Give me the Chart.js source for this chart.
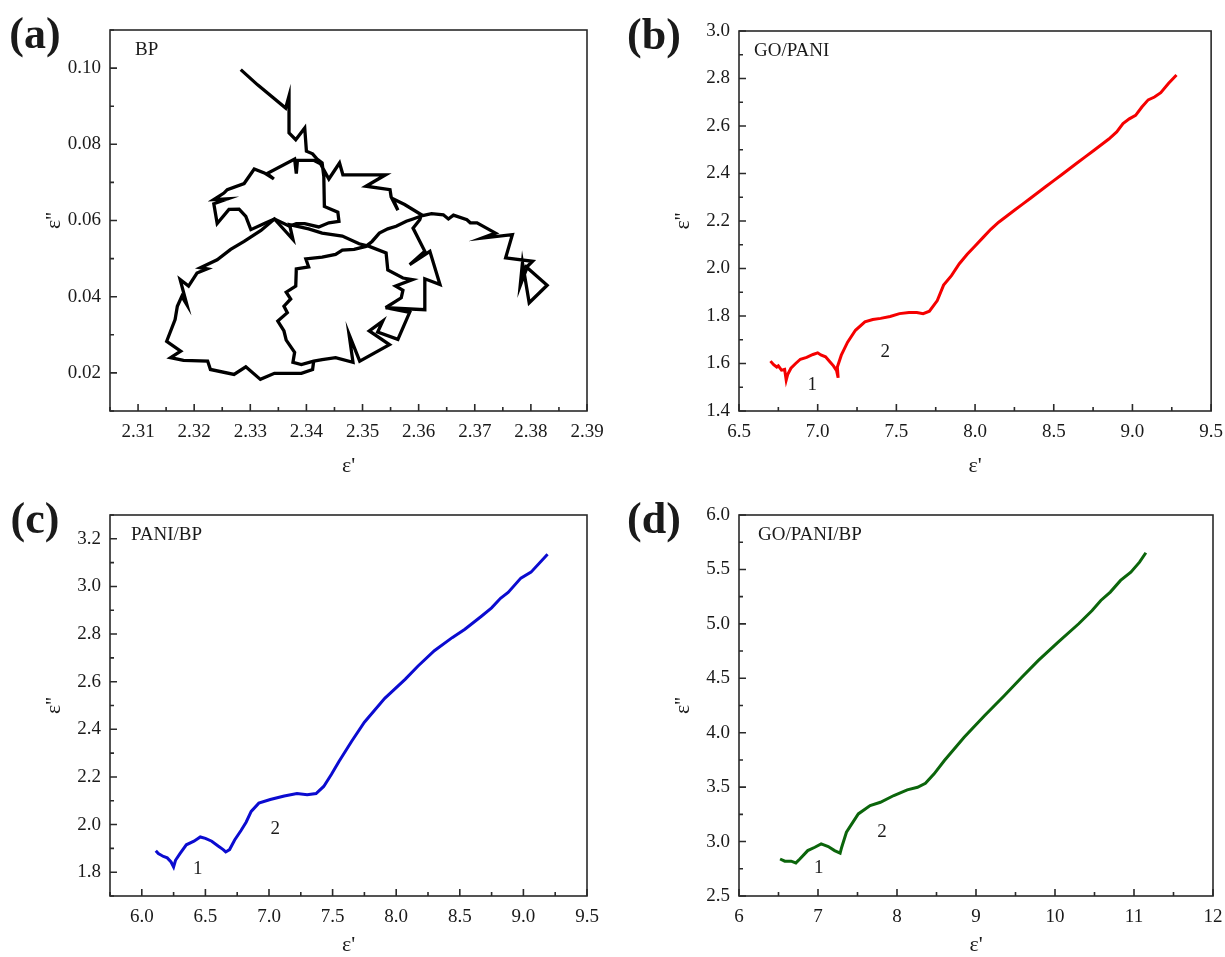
<!DOCTYPE html>
<html>
<head>
<meta charset="utf-8">
<script src="https://cdn.jsdelivr.net/npm/chart.js@4.4.1/dist/chart.umd.min.js"></script>
<style>
  html, body { margin: 0; padding: 0; background: #fff; }
  #wrap { position: relative; width: 1225px; height: 957px; }
  #wrap canvas { position: absolute; left: 0; top: 0; }
</style>
</head>
<body>
<div id="wrap">
  <canvas id="pa" width="1225" height="957"></canvas>
  <canvas id="pb" width="1225" height="957"></canvas>
  <canvas id="pc" width="1225" height="957"></canvas>
  <canvas id="pd" width="1225" height="957"></canvas>
</div>
<script>
// (a) BP: main trace and the lower-left loop branch (eps', eps'')
const bpMainRe = [2.3283,2.3313,2.3363,2.3369,2.3369,2.3381,2.3397,2.3400,2.3411,2.3419,2.3428,
  2.3431,2.3432,2.3456,2.3458,2.3440,2.3422,2.3397,2.3382,2.3370,2.3343,2.3325,2.3301,2.3292,2.3280,
  2.3262,2.3241,2.3235,2.3260,2.3235,2.3253,2.3259,2.3289,2.3307,2.3325,2.3342,2.3330,2.3379,2.3382,
  2.3384,2.3413,2.3425,2.3440,2.3459,2.3465,2.3541,2.3506,2.3549,2.3551,2.3563,2.3554,2.3575,2.3605,
  2.3602,2.3590,2.3611,2.3584,2.3620,2.3638,2.3611,2.3611,2.3541,
  2.3584,2.3563,2.3527,2.3536,2.3512,2.3548,2.3495,2.3476,2.3483,2.3452,2.3428,
  2.3413,2.3391,2.3376,2.3379,2.3364,2.3360,2.3349,2.3366,2.3360,2.3372,2.3364,2.3381,2.3382,2.3404,2.3399,
  2.3428,2.3452,2.3464,2.3485,2.3506,2.3517,2.3530,2.3545,2.3560,2.3578,2.3590,2.3607,
  2.3623,2.3644,2.3653,2.3662,2.3686,2.3692,2.3704,2.3737,2.3713,2.3767,2.3755,2.3803,2.3794,2.3781,
  2.3785,2.3797,2.3829,2.3789];
const bpMainIm = [0.0996,0.0956,0.0895,0.0927,0.0830,0.0812,0.0843,0.0782,0.0775,0.0761,0.0751,
  0.0716,0.0637,0.0622,0.0598,0.0594,0.0583,0.0592,0.0592,0.0585,0.0604,0.0592,0.0576,0.0611,0.0630,
  0.0629,0.0592,0.0644,0.0657,0.0655,0.0672,0.0681,0.0697,0.0735,0.0725,0.0709,0.0723,0.0761,0.0723,
  0.0758,0.0758,0.0749,0.0709,0.0751,0.0720,0.0720,0.0690,0.0681,0.0662,0.0627,0.0657,0.0642,0.0615,
  0.0602,0.0580,0.0519,0.0484,0.0519,0.0432,0.0447,0.0366,0.0371,
  0.0359,0.0288,0.0307,0.0336,0.0310,0.0274,0.0231,0.0301,0.0228,0.0240,0.0235,
  0.0231,0.0222,0.0228,0.0254,0.0286,0.0310,0.0336,0.0358,0.0375,0.0394,0.0412,0.0428,0.0473,0.0478,0.0499,
  0.0504,0.0511,0.0522,0.0524,0.0532,0.0545,0.0567,0.0578,0.0585,0.0598,0.0604,0.0613,
  0.0618,0.0615,0.0604,0.0614,0.0602,0.0594,0.0594,0.0567,0.0554,0.0563,0.0502,0.0493,0.0480,0.0429,
  0.0489,0.0384,0.0430,0.0482];
const bpLoopRe = [2.3413,2.3411,2.3391,2.3343,2.3318,2.3292,2.3271,2.3229,2.3224,2.3181,2.3158,2.3176,
  2.3151,2.3166,2.3170,2.3178,2.3187,2.3175,2.3190,2.3205,2.3223,2.3211,2.3241,2.3265,2.3289,2.3319,
  2.3343,2.3376,2.3370,2.3404,2.3428,2.3464,2.3494,2.3512,2.3542,2.3545,2.3572,2.3589,2.3559,2.3572,
  2.3569,2.3541];
const bpLoopIm = [0.0231,0.0209,0.0199,0.0199,0.0183,0.0216,0.0196,0.0209,0.0231,0.0233,0.0240,0.0257,
  0.0283,0.0340,0.0375,0.0401,0.0379,0.0445,0.0428,0.0462,0.0473,0.0476,0.0497,0.0524,0.0545,0.0574,
  0.0604,0.0550,0.0589,0.0578,0.0567,0.0559,0.0539,0.0532,0.0515,0.0470,0.0449,0.0445,0.0428,0.0417,
  0.0397,0.0371];

// (b) GO/PANI
const goPaniRe = [6.70,6.72,6.74,6.75,6.77,6.79,6.80,6.81,6.83,6.86,6.89,6.93,6.97,7.00,7.02,7.05,7.08,
  7.10,7.12,7.13,7.125,7.15,7.19,7.24,7.30,7.35,7.40,7.46,7.52,7.58,7.63,7.67,7.71,7.76,7.80,7.85,7.90,
  7.95,8.00,8.05,8.10,8.15,8.20,8.25,8.30,8.35,8.40,8.45,8.50,8.55,8.60,8.65,8.70,8.75,8.80,8.85,8.90,
  8.94,8.98,9.02,9.06,9.10,9.14,9.18,9.23,9.28];
const goPaniIm = [1.610,1.595,1.585,1.590,1.572,1.575,1.530,1.555,1.580,1.600,1.618,1.626,1.638,1.645,
  1.636,1.628,1.605,1.590,1.570,1.540,1.585,1.635,1.690,1.740,1.775,1.785,1.790,1.798,1.810,1.815,1.815,
  1.810,1.820,1.865,1.930,1.970,2.020,2.060,2.095,2.130,2.165,2.195,2.220,2.245,2.270,2.295,2.320,2.345,
  2.370,2.395,2.420,2.445,2.470,2.495,2.520,2.545,2.575,2.610,2.630,2.645,2.680,2.710,2.722,2.740,2.780,2.815];

// (c) PANI/BP
const paniBpRe = [6.11,6.13,6.15,6.17,6.20,6.23,6.25,6.265,6.30,6.35,6.41,6.46,6.50,6.55,6.60,6.64,6.66,
  6.69,6.73,6.78,6.82,6.86,6.92,7.01,7.12,7.22,7.30,7.37,7.43,7.49,7.55,7.65,7.75,7.91,8.07,8.17,8.30,
  8.44,8.54,8.67,8.75,8.82,8.88,8.98,9.06,9.19];
const paniBpIm = [1.890,1.878,1.872,1.866,1.860,1.843,1.822,1.850,1.878,1.915,1.930,1.948,1.942,1.930,
  1.910,1.895,1.885,1.895,1.935,1.975,2.010,2.055,2.090,2.105,2.120,2.130,2.125,2.130,2.160,2.210,2.265,
  2.350,2.430,2.530,2.610,2.665,2.730,2.785,2.820,2.875,2.910,2.950,2.975,3.035,3.060,3.135];

// (d) GO/PANI/BP
const goPaniBpRe = [6.52,6.58,6.66,6.72,6.77,6.87,6.96,7.04,7.13,7.21,7.28,7.30,7.36,7.51,7.66,7.79,7.96,
  8.13,8.26,8.36,8.47,8.60,8.85,9.11,9.36,9.58,9.79,10.04,10.30,10.47,10.58,10.70,10.83,10.96,11.07,11.15];
const goPaniBpIm = [2.840,2.820,2.820,2.804,2.840,2.917,2.948,2.979,2.954,2.917,2.893,2.948,3.086,3.254,
  3.331,3.361,3.423,3.475,3.499,3.536,3.622,3.745,3.959,4.158,4.342,4.510,4.664,4.832,5.001,5.123,5.215,
  5.292,5.399,5.475,5.567,5.653];

// tick values
const ticksAX = [2.31,2.32,2.33,2.34,2.35,2.36,2.37,2.38,2.39];
const ticksAY = [0.02,0.04,0.06,0.08,0.10];
const ticksBX = [6.5,7.0,7.5,8.0,8.5,9.0,9.5];
const ticksBY = [1.4,1.6,1.8,2.0,2.2,2.4,2.6,2.8,3.0];
const ticksCX = [6.0,6.5,7.0,7.5,8.0,8.5,9.0,9.5];
const ticksCY = [1.8,2.0,2.2,2.4,2.6,2.8,3.0,3.2];
const ticksDX = [6,7,8,9,10,11,12];
const ticksDY = [2.5,3.0,3.5,4.0,4.5,5.0,5.5,6.0];

const SERIF = "'Liberation Serif', 'Times New Roman', serif";
const INK = '#1a1a1a';

const toPoints = (xs, ys) => xs.map((v, i) => ({ x: v, y: ys[i] }));

// box frame, inward major/minor ticks and the text around each panel
const frameTicks = {
  id: 'frameTicks',
  afterDraw(chart, args, o) {
    const { ctx, chartArea: a, scales: { x, y } } = chart;
    ctx.save();
    ctx.strokeStyle = '#2a2a2a';
    ctx.lineWidth = 1.6;
    ctx.strokeRect(a.left, a.top, a.right - a.left, a.bottom - a.top);
    ctx.beginPath();
    const near = (v, list) => list.some(t => Math.abs(t - v) < 1e-9);
    for (let k = Math.ceil(x.min / o.minorX - 1e-9); k * o.minorX <= x.max + 1e-9; k++) {
      const v = k * o.minorX;
      const px = x.getPixelForValue(v);
      const len = near(v, o.majorX) ? 7 : 4;
      ctx.moveTo(px, a.bottom);
      ctx.lineTo(px, a.bottom - len);
    }
    for (let k = Math.ceil(y.min / o.minorY - 1e-9); k * o.minorY <= y.max + 1e-9; k++) {
      const v = k * o.minorY;
      const py = y.getPixelForValue(v);
      const len = near(v, o.majorY) ? 7 : 4;
      ctx.moveTo(a.left, py);
      ctx.lineTo(a.left + len, py);
    }
    ctx.stroke();

    ctx.fillStyle = INK;
    ctx.textAlign = 'center';
    ctx.textBaseline = 'middle';
    // panel letter
    ctx.font = 'bold 44px ' + SERIF;
    ctx.fillText(o.letter, o.letterX, a.top + 7);
    // sample name
    ctx.font = '19px ' + SERIF;
    ctx.textAlign = 'left';
    ctx.fillText(o.name, a.left + o.nameOff, a.top + 20);
    // numbered regions
    ctx.textAlign = 'center';
    (o.notes || []).forEach(n => {
      ctx.fillText(n.t, x.getPixelForValue(n.x), y.getPixelForValue(n.y));
    });
    // axis titles
    ctx.font = '22px ' + SERIF;
    ctx.fillText("\u03b5'", (a.left + a.right) / 2, a.bottom + o.titleGap);
    ctx.save();
    ctx.translate(a.left - 56, (a.top + a.bottom) / 2);
    ctx.rotate(-Math.PI / 2);
    ctx.fillText("\u03b5''", 0, 0);
    ctx.restore();
    ctx.restore();
  }
};

function makePanel(id, p) {
  const Y_W = 70, X_H = 40;
  const [L, T, R, B] = p.box;
  return new Chart(document.getElementById(id), {
    type: 'scatter',
    data: {
      datasets: p.series.map(s => ({
        data: toPoints(s[0], s[1]),
        showLine: true,
        borderColor: p.color,
        borderWidth: p.lw,
        borderJoinStyle: 'miter',
        pointRadius: 0,
        tension: 0,
        fill: false
      }))
    },
    options: {
      responsive: false,
      animation: false,
      devicePixelRatio: 1,
      layout: {
        autoPadding: false,
        padding: { left: L - Y_W, top: T, right: 1225 - R, bottom: 957 - B - X_H }
      },
      plugins: {
        legend: { display: false },
        tooltip: { enabled: false },
        frameTicks: {
          majorX: p.tx, majorY: p.ty, minorX: p.minor[0], minorY: p.minor[1],
          letter: p.letter, letterX: p.letterX, name: p.name, nameOff: p.nameOff,
          notes: p.notes, titleGap: p.titleGap
        }
      },
      scales: {
        x: {
          type: 'linear', min: p.xr[0], max: p.xr[1],
          grid: { display: false }, border: { display: false },
          afterBuildTicks: s => { s.ticks = p.tx.map(v => ({ value: v })); },
          afterFit: s => { s.height = X_H; },
          ticks: {
            autoSkip: false, maxRotation: 0, padding: 2, color: INK,
            font: { family: SERIF, size: 19 },
            callback: v => v.toFixed(p.dx)
          }
        },
        y: {
          type: 'linear', min: p.yr[0], max: p.yr[1],
          grid: { display: false }, border: { display: false },
          afterBuildTicks: s => { s.ticks = p.ty.map(v => ({ value: v })); },
          afterFit: s => { s.width = Y_W; },
          ticks: {
            autoSkip: false, padding: 1, color: INK,
            font: { family: SERIF, size: 19 },
            callback: v => v.toFixed(p.dy)
          }
        }
      }
    },
    plugins: [frameTicks]
  });
}

makePanel('pa', {
  box: [110, 30, 587, 411], xr: [2.305, 2.39], yr: [0.01, 0.11],
  tx: ticksAX, ty: ticksAY, minor: [0.005, 0.01], dx: 2, dy: 2,
  series: [[bpMainRe, bpMainIm], [bpLoopRe, bpLoopIm]], color: '#000000', lw: 3.3,
  letter: '(a)', letterX: 35, name: 'BP', nameOff: 25, notes: [], titleGap: 55
});
makePanel('pb', {
  box: [739, 31, 1213, 411], xr: [6.5, 9.5], yr: [1.4, 3.0],
  tx: ticksBX, ty: ticksBY, minor: [0.25, 0.1], dx: 1, dy: 1,
  series: [[goPaniRe, goPaniIm]], color: '#f50000', lw: 3,
  letter: '(b)', letterX: 654, name: 'GO/PANI', nameOff: 15, titleGap: 55,
  notes: [{ t: '1', x: 6.965, y: 1.51 }, { t: '2', x: 7.43, y: 1.65 }]
});
makePanel('pc', {
  box: [110, 515, 587, 896], xr: [5.75, 9.5], yr: [1.7, 3.3],
  tx: ticksCX, ty: ticksCY, minor: [0.25, 0.1], dx: 1, dy: 1,
  series: [[paniBpRe, paniBpIm]], color: '#0b0bd0', lw: 3,
  letter: '(c)', letterX: 35, name: 'PANI/BP', nameOff: 21, titleGap: 49,
  notes: [{ t: '1', x: 6.44, y: 1.815 }, { t: '2', x: 7.05, y: 1.98 }]
});
makePanel('pd', {
  box: [739, 515, 1213, 896], xr: [6, 12], yr: [2.5, 6.0],
  tx: ticksDX, ty: ticksDY, minor: [0.5, 0.25], dx: 0, dy: 1,
  series: [[goPaniBpRe, goPaniBpIm]], color: '#0b650b', lw: 3,
  letter: '(d)', letterX: 654, name: 'GO/PANI/BP', nameOff: 19, titleGap: 49,
  notes: [{ t: '1', x: 7.01, y: 2.76 }, { t: '2', x: 7.81, y: 3.09 }]
});
</script>
</body>
</html>
